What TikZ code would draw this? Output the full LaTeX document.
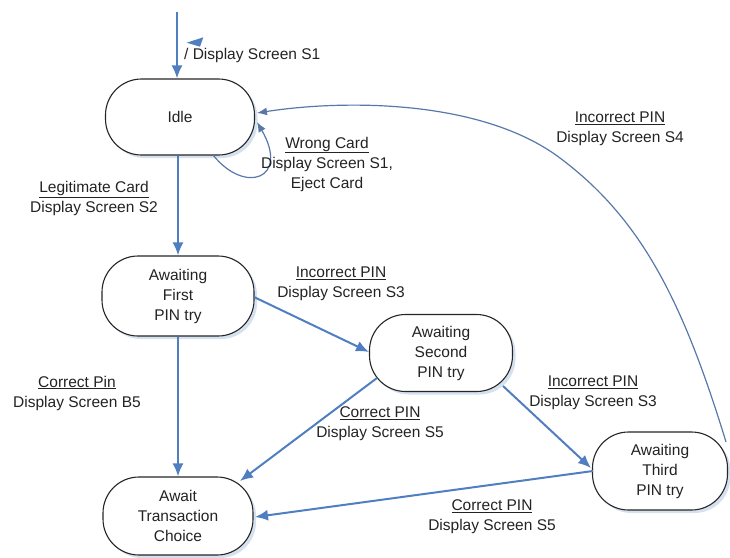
\documentclass[tikz,border=0pt]{standalone}
\usepackage{fontspec}
\setmainfont{Liberation Sans}
\usetikzlibrary{arrows.meta,calc,shadows}
\definecolor{flow}{RGB}{79,127,192}
\definecolor{flowthin}{RGB}{88,120,170}
\definecolor{ink}{RGB}{35,35,35}
\definecolor{shade}{RGB}{196,212,234}
\begin{document}
\begin{tikzpicture}[x=1pt,y=-1pt,
  font=\fontsize{15.5}{20}\selectfont,
  state/.style={draw=black!85, line width=1.1pt, rounded corners=36pt, fill=white,
    align=center, text=ink, inner sep=0pt,
    drop shadow={shadow xshift=3pt, shadow yshift=-3pt, fill=shade, opacity=0.7}},
  lbl/.style={align=center, text=ink, inner sep=0pt},
  move/.style={draw=flow, line width=2pt, -{Latex[length=13pt,width=11pt]}},
  back/.style={draw=flowthin, line width=1.2pt, -{Latex[length=10pt,width=8pt]}}
]
\useasboundingbox (0,0) rectangle (730,557);

% states
\node[state, minimum width=149pt, minimum height=76pt] (idle) at (180,117) {Idle};
\node[state, minimum width=152pt, minimum height=80pt] (first) at (178,296) {Awaiting\\First\\PIN try};
\node[state, minimum width=143pt, minimum height=77pt] (second) at (441,353) {Awaiting\\Second\\PIN try};
\node[state, minimum width=135pt, minimum height=78pt] (third) at (660,471) {Awaiting\\Third\\PIN try};
\node[state, minimum width=150pt, minimum height=78pt] (choice) at (178,516) {Await\\Transaction\\Choice};

% initial transition
\coordinate (start) at (177,12);
\draw[move] (start) -- (start |- idle.north);
\fill[flow] (186.7,42.7) -- (203.3,37.3) -- (200,46.7) -- cycle;
\node[lbl, anchor=west] (initlbl) at (184,55) {/ Display Screen S1};

% self loop on Idle
\draw[back] ($(idle.center)+(33,38)$) .. controls +(32,40) and +(33,57) .. ($(idle.center)+(77,5)$);
\node[lbl] (wronglbl) at (327,164) {\underline{Wrong Card}\\Display Screen S1,\\Eject Card};

% Idle -> first try
\draw[move] (first.north |- idle.south) -- (first.north);
\node[lbl] (legitlbl) at (94,198.5) {\underline{Legitimate Card}\\Display Screen S2};

% first try -> second try
\draw[move] ($(first.center)+(76,1)$) -- ($(second.center)+(-72,-1)$);
\node[lbl] (inc1lbl) at (341,283.5) {\underline{Incorrect PIN}\\Display Screen S3};

% first try -> choice
\draw[move] (first.south) -- (choice.north);
\node[lbl] (cor1lbl) at (77,393) {\underline{Correct Pin}\\Display Screen B5};

% second try -> choice
\draw[move] ($(second.center)+(-64,25)$) -- ($(choice.center)+(62,-35)$);
\node[lbl] (cor2lbl) at (380,424) {\underline{Correct PIN}\\Display Screen S5};

% second try -> third try
\draw[move] ($(second.center)+(62,33)$) -- ($(third.center)+(-69,-3)$);
\node[lbl] (inc2lbl) at (593,393) {\underline{Incorrect PIN}\\Display Screen S3};

% third try -> choice
\draw[move] ($(third.center)+(-67,0)$) -- ($(choice.center)+(77,1)$);
\node[lbl] (cor3lbl) at (492,517) {\underline{Correct PIN}\\Display Screen S5};

% third try -> Idle
\coordinate (via) at (560,158);
\draw[back] ($(third.center)+(66,-29)$) .. controls +(-44,-144) and +(80,60) .. (via)
  .. controls +(-80,-60) and +(83,-13) .. ($(idle.center)+(77,-4)$);
\node[lbl] (inc3lbl) at (620,129) {\underline{Incorrect PIN}\\Display Screen S4};
\end{tikzpicture}
\end{document}
